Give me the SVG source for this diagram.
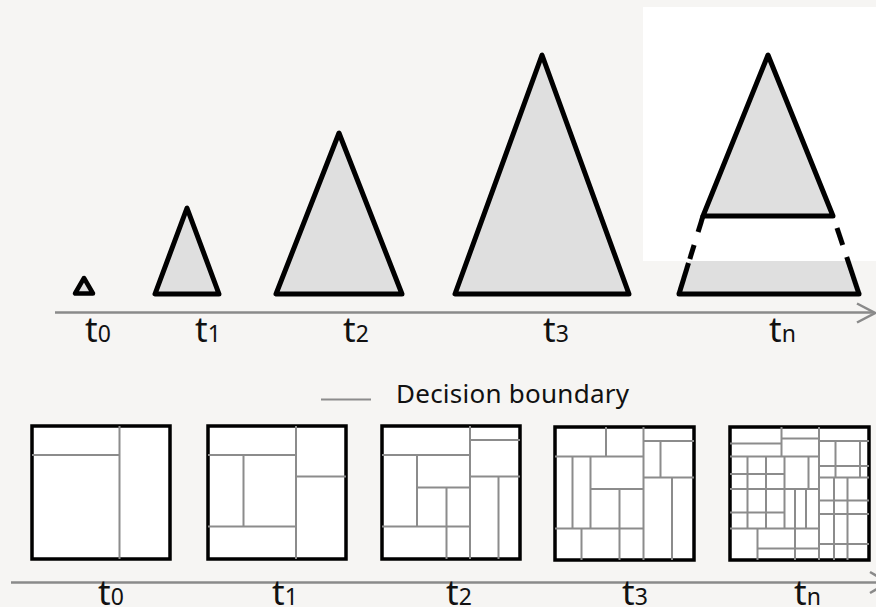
<svg xmlns="http://www.w3.org/2000/svg" width="876" height="607" viewBox="0 0 876 607">
<style>
.tri{fill:#dfdfdf;stroke:#000;stroke-width:5;stroke-linejoin:round;stroke-linecap:round}
.edge{fill:none;stroke:#000;stroke-width:5;stroke-linecap:butt}
.axis{fill:none;stroke:#8a8a8a;stroke-width:2.5}
.box{fill:#fff;stroke:#000;stroke-width:3.5}
.db{fill:none;stroke:#8c8c8c;stroke-width:2}
.lbl{font-family:"Noto Sans","DejaVu Sans",sans-serif;font-size:35px;fill:#111}
.sub{font-size:23px}
.leg{font-family:"Noto Sans","DejaVu Sans",sans-serif;font-size:26px;fill:#111}
</style>
<rect x="0" y="0" width="876" height="607" fill="#f6f5f3"/>

<g id="tree-t0"><polygon class="tri" points="75,293.5 93,293.5 84,278" style="stroke-width:4.5"/></g>
<g id="tree-t1"><polygon class="tri" points="155,294 219,294 187,208"/></g>
<g id="tree-t2"><polygon class="tri" points="276,294 402,294 339,133"/></g>
<g id="tree-t3"><polygon class="tri" points="455,294 629,294 542,55"/></g>
<g id="tree-tn">
  <polygon points="703,216 833,216 859,294 679,294" fill="#dfdfdf"/>
  <rect x="643" y="7" width="240" height="254" fill="#fff"/>
  <polygon class="tri" points="703,216 833,216 768,55"/>
  <line class="edge" x1="703" y1="216" x2="698.1" y2="232"/>
  <line class="edge" x1="694.1" y1="245" x2="689.8" y2="259"/>
  <line class="edge" x1="688.5" y1="263" x2="679" y2="294"/>
  <line class="edge" x1="837" y1="228" x2="842.7" y2="245"/>
  <line class="edge" x1="846.7" y1="257" x2="859" y2="294"/>
  <line class="edge" x1="679" y1="294" x2="859" y2="294" style="stroke-linecap:round"/>
</g>

<g id="connectors">
  <line class="axis" x1="55" y1="312.5" x2="874" y2="312.5"/>
  <polyline class="axis" points="857,303.5 875,313 857,322.5"/>
  <line class="axis" x1="11" y1="582.5" x2="885" y2="582.5"/>
  <polyline class="axis" points="870,572 888,582.5 870,593"/>
  <line class="db" x1="321" y1="399.5" x2="371" y2="399.5"/>
</g>

<g id="top-labels">
  <text class="lbl" x="85" y="342">t<tspan class="sub">0</tspan></text>
  <text class="lbl" x="195" y="342">t<tspan class="sub">1</tspan></text>
  <text class="lbl" x="343" y="342">t<tspan class="sub">2</tspan></text>
  <text class="lbl" x="543" y="342">t<tspan class="sub">3</tspan></text>
  <text class="lbl" x="769" y="342">t<tspan class="sub">n</tspan></text>
</g>

<g id="legend"><text class="leg" x="396" y="403" textLength="233" lengthAdjust="spacing">Decision boundary</text></g>

<g id="space-t0">
  <rect class="box" x="32" y="426" width="138" height="133"/>
  <path class="db" d="M119.5,426V559 M32,455H119.5"/>
</g>
<g id="space-t1">
  <rect class="box" x="208" y="426" width="138" height="133"/>
  <path class="db" d="M296,426V559 M208,455H296 M243.5,455V526.5 M208,526.5H296 M296,476.5H346"/>
</g>
<g id="space-t2">
  <rect class="box" x="382" y="426" width="138" height="133"/>
  <path class="db" d="M470,426V559 M382,455H470 M417,455V526.5 M417,487.5H470 M446.5,487.5V559 M382,526.5H470 M470,440H520 M470,476.5H520 M498.5,476.5V559"/>
</g>
<g id="space-t3">
  <rect class="box" x="555" y="427" width="139" height="133"/>
  <path class="db" d="M643.5,427V560 M606,427V456.5 M555,456.5H643.5 M572.5,456.5V528.5 M590.5,456.5V528.5 M590.5,489H643.5 M619.5,489V560 M555,528.5H643.5 M581.5,528.5V560 M643.5,441H694 M660.5,441V477.5 M643.5,477.5H694 M672,477.5V560"/>
</g>
<g id="space-tn">
  <rect class="box" x="730" y="427" width="139" height="133"/>
  <path class="db" d="M819,427V560 M781.5,427V456.5 M730,443.5H781.5 M781.5,438.5H819 M730,456.5H819
  M747.5,456.5V528.5 M766,456.5V528.5 M784.5,456.5V528.5 M808.5,456.5V489 M795,489V528.5 M806,489V528.5
  M730,474H784.5 M730,489H819 M730,512.5H784.5 M730,528.5H819
  M757.5,528.5V560 M757.5,548.5H819 M795,528.5V560
  M819,441H869 M835.5,441V477.5 M860,441V477.5 M819,466H869 M819,477.5H869
  M834,477.5V560 M847.5,477.5V560 M819,500.5H869 M819,514H869 M819,544H869"/>
</g>

<g id="bottom-labels">
  <text class="lbl" x="98" y="605">t<tspan class="sub">0</tspan></text>
  <text class="lbl" x="272" y="605">t<tspan class="sub">1</tspan></text>
  <text class="lbl" x="446" y="605">t<tspan class="sub">2</tspan></text>
  <text class="lbl" x="622" y="605">t<tspan class="sub">3</tspan></text>
  <text class="lbl" x="794" y="605">t<tspan class="sub">n</tspan></text>
</g>
</svg>
